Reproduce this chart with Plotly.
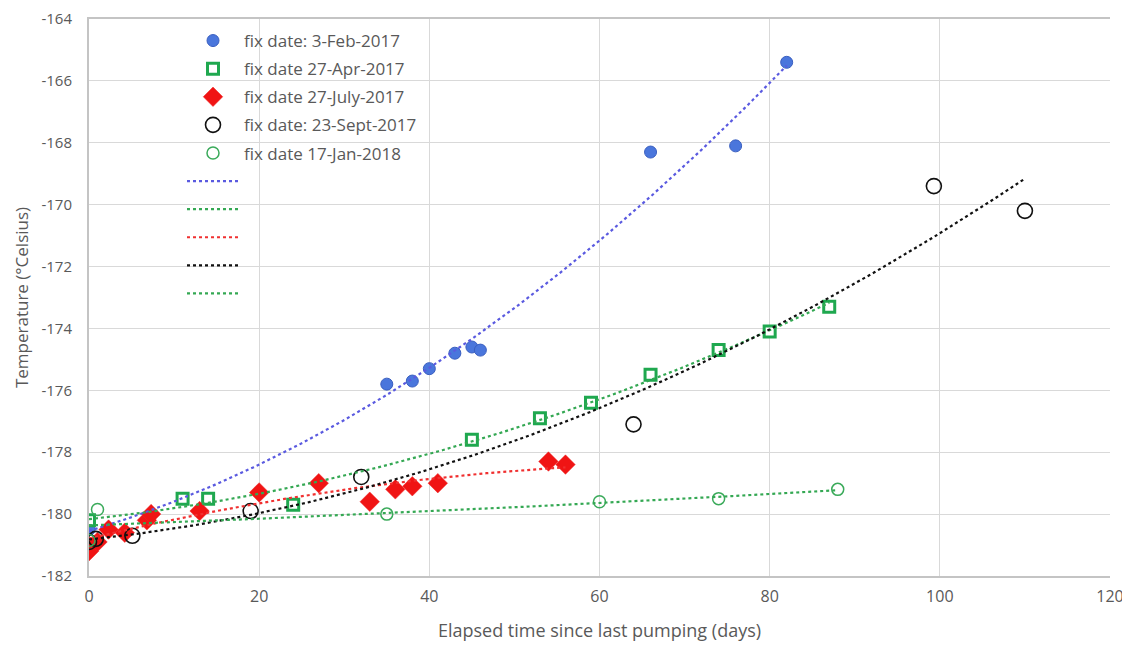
import numpy as np
import plotly.graph_objects as go

# ---- data ----
feb17_x = [0, 35, 38, 40, 43, 45, 46, 66, 76, 82]
feb17_y = [-180.5, -175.8, -175.7, -175.3, -174.8, -174.6, -174.7, -168.3, -168.1, -165.4]

apr17_x = [0, 11, 14, 24, 45, 53, 59, 66, 74, 80, 87]
apr17_y = [-180.2, -179.5, -179.5, -179.7, -177.6, -176.9, -176.4, -175.5, -174.7, -174.1, -173.3]

jul17_x = [0, 1, 2.3, 4.2, 6.8, 7.3, 13, 20, 27, 33, 36, 38, 41, 54, 56]
jul17_y = [-181.2, -180.9, -180.5, -180.6, -180.2, -180.0, -179.9, -179.3, -179.0, -179.6, -179.2, -179.1, -179.0, -178.3, -178.4]

sep17_x = [0, 0.8, 5.1, 19, 32, 64, 99.3, 110]
sep17_y = [-180.9, -180.8, -180.7, -179.9, -178.8, -177.1, -169.4, -170.2]

jan18_x = [0, 1, 35, 60, 74, 88]
jan18_y = [-180.85, -179.85, -180.0, -179.6, -179.5, -179.2]

series_names = ["fix date: 3-Feb-2017", "fix date 27-Apr-2017", "fix date 27-July-2017",
                "fix date: 23-Sept-2017", "fix date 17-Jan-2018"]

x_tick_vals = [0, 20, 40, 60, 80, 100, 120]
x_tick_labels = ["0", "20", "40", "60", "80", "100", "120"]
y_tick_vals = [-182, -180, -178, -176, -174, -172, -170, -168, -166, -164]
y_tick_labels = ["-182", "-180", "-178", "-176", "-174", "-172", "-170", "-168", "-166", "-164"]

# ---- styles ----
FONT = "Open Sans"
TXT = "#595959"

marker_styles = [
    dict(symbol="circle", size=12, color="#4a76dc", line=dict(color="#3a5fc0", width=1)),
    dict(symbol="square", size=11, color="white", line=dict(color="#1fa84f", width=3)),
    dict(symbol="diamond", size=15, color="#f01414", line=dict(color="rgba(240,40,40,0.5)", width=1)),
    dict(symbol="circle", size=15, color="rgba(0,0,0,0)", line=dict(color="#111111", width=1.6)),
    dict(symbol="circle", size=12, color="rgba(0,0,0,0)", line=dict(color="#3aaa5a", width=1.5)),
]
trend_colors = ["#5a5ae0", "#34a853", "#f03030", "#111111", "#34a853"]

data = [(feb17_x, feb17_y), (apr17_x, apr17_y), (jul17_x, jul17_y),
        (sep17_x, sep17_y), (jan18_x, jan18_y)]

fig = go.Figure()

for i, ((xs, ys), name) in enumerate(zip(data, series_names)):
    fig.add_trace(go.Scatter(
        x=xs, y=ys, mode="markers", name=name,
        marker=marker_styles[i], legendgroup=f"m{i}", legendrank=i + 1,
    ))

for i, (xs, ys) in enumerate(data):
    coef = np.polyfit(xs, ys, 2)
    tx = np.linspace(min(xs), max(xs), 200)
    ty = np.polyval(coef, tx)
    fig.add_trace(go.Scatter(
        x=tx, y=ty, mode="lines", name=" ",
        line=dict(color=trend_colors[i], width=2.2, dash="dot"),
        legendgroup=f"t{i}", legendrank=10 + i, hoverinfo="skip",
    ))

# page body has an 8px margin, so the figure is shrunk/shifted to land on the 1130x645 window
OFF = 8
TOP = 19  # plot top in window pixels
W, H = 1130 - OFF, 645 - OFF
ml, mr, mt, mb = 89 - OFF, 20, TOP - OFF, 69
pw, ph = W - ml - mr, H - mt - mb

fig.update_layout(
    width=W, height=H,
    margin=dict(l=ml, r=mr, t=mt, b=mb, autoexpand=False),
    paper_bgcolor="white", plot_bgcolor="white",
    font=dict(family=FONT, size=16, color=TXT),
    legend=dict(
        x=(182 - 89) / pw, y=1 - (23 - TOP) / ph,
        xanchor="left", yanchor="top",
        bgcolor="rgba(255,255,255,0)", font=dict(family=FONT, size=17, color=TXT),
        tracegroupgap=3, itemwidth=52,
    ),
    xaxis=dict(
        range=[0, 120], tickvals=x_tick_vals, ticktext=x_tick_labels,
        showgrid=True, gridcolor="#d9d9d9", gridwidth=1,
        showline=True, linecolor="#c4c4c4", linewidth=2, mirror=True,
        zeroline=False, ticks="", ticklabelstandoff=5, automargin=False,
        ticklabeloverflow="allow",
        tickfont=dict(size=16, color=TXT),
        title=dict(text="Elapsed time since last pumping (days)",
                   font=dict(size=18, color=TXT), standoff=18),
    ),
    yaxis=dict(
        range=[-182, -164], tickvals=y_tick_vals, ticktext=y_tick_labels,
        showgrid=True, gridcolor="#d9d9d9", gridwidth=1,
        showline=True, linecolor="#c4c4c4", linewidth=2,
        zeroline=False, ticks="", ticklabelstandoff=12, automargin=False,
        ticklabeloverflow="allow",
        tickfont=dict(size=15, color=TXT),
        title=dict(text="Temperature (°Celsius)",
                   font=dict(size=17, color=TXT), standoff=8),
    ),
)

fig.write_html("out.html")
